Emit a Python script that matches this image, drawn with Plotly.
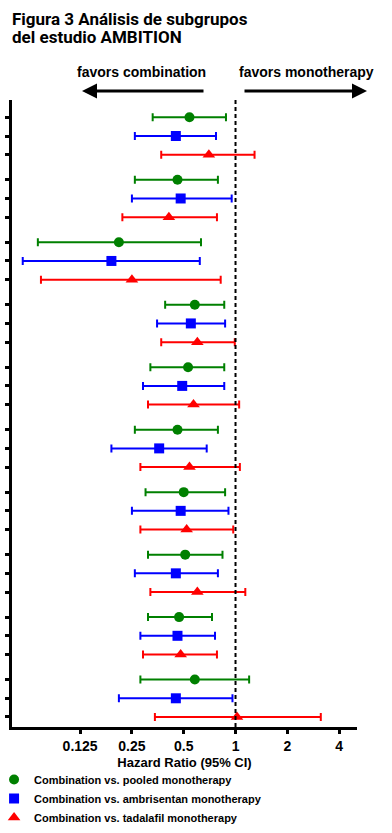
import plotly.graph_objects as go

# ---------------- data ----------------
series_names = [
    "Combination vs. pooled monotherapy",
    "Combination vs. ambrisentan monotherapy",
    "Combination vs. tadalafil monotherapy",
]
pooled_hr = [0.54, 0.46, 0.21, 0.58, 0.53, 0.46, 0.50, 0.51, 0.47, 0.58]
pooled_lo = [0.33, 0.26, 0.071, 0.39, 0.32, 0.26, 0.30, 0.31, 0.31, 0.28]
pooled_hi = [0.88, 0.79, 0.63, 0.86, 0.86, 0.79, 0.87, 0.84, 0.73, 1.20]

ambri_hr = [0.45, 0.48, 0.19, 0.55, 0.49, 0.36, 0.48, 0.45, 0.46, 0.45]
ambri_lo = [0.26, 0.25, 0.058, 0.35, 0.29, 0.19, 0.25, 0.26, 0.28, 0.21]
ambri_hi = [0.77, 0.95, 0.62, 0.87, 0.86, 0.68, 0.91, 0.79, 0.76, 0.96]

tada_hr = [0.70, 0.41, 0.25, 0.60, 0.57, 0.54, 0.52, 0.60, 0.48, 1.02]
tada_lo = [0.37, 0.22, 0.074, 0.37, 0.31, 0.28, 0.28, 0.32, 0.29, 0.34]
tada_hi = [1.29, 0.78, 0.82, 0.99, 1.05, 1.06, 0.97, 1.14, 0.78, 3.13]

x_tick_values = [0.125, 0.25, 0.5, 1, 2, 4]
x_tick_labels = ["0.125", "0.25", "0.5", "1", "2", "4"]

# ---------------- styling ----------------
colors = ["#008000", "#0000FF", "#FF0000"]
symbols = ["circle", "square", "triangle-up"]
sizes = [10, 10, 11]
GROUP_GAP = 3.34
n_groups = len(pooled_hr)

BOLD = "Liberation Sans, Arial, sans-serif"
NARROW = "Roboto, Liberation Sans, Arial, sans-serif"

fig = go.Figure()
all_series = [
    (pooled_hr, pooled_lo, pooled_hi),
    (ambri_hr, ambri_lo, ambri_hi),
    (tada_hr, tada_lo, tada_hi),
]
all_rows = []
for s, (hr, lo, hi) in enumerate(all_series):
    ys = [g * GROUP_GAP + s for g in range(n_groups)]
    all_rows += ys
    fig.add_trace(go.Scatter(
        x=hr, y=ys, mode="markers", name=series_names[s],
        marker=dict(symbol=symbols[s], color=colors[s], size=sizes[s], line=dict(width=0)),
        error_x=dict(type="data", symmetric=False,
                     array=[h - m for h, m in zip(hi, hr)],
                     arrayminus=[m - l for m, l in zip(hr, lo)],
                     color=colors[s], thickness=2, width=4),
    ))

last_row = (n_groups - 1) * GROUP_GAP + 2

fig.add_shape(type="line", xref="x", yref="paper", x0=1, x1=1, y0=0, y1=1,
              line=dict(color="black", width=2, dash="4px,3px"))

# title lines
fig.add_annotation(text="<b>Figura 3 Análisis de subgrupos</b>", xref="paper", yref="paper",
                   x=-0.005, y=1.129, xanchor="left", yanchor="middle", showarrow=False,
                   font=dict(family=NARROW, size=17, color="black"))
fig.add_annotation(text="<b>del estudio AMBITION</b>", xref="paper", yref="paper",
                   x=-0.005, y=1.101, xanchor="left", yanchor="middle", showarrow=False,
                   font=dict(family=NARROW, size=17, color="black"))

# direction labels
fig.add_annotation(text="<b>favors combination</b>", xref="paper", yref="paper",
                   x=0.3768, y=1.0447, xanchor="center", yanchor="middle", showarrow=False,
                   font=dict(family=BOLD, size=14, color="black"))
fig.add_annotation(text="<b>favors monotherapy</b>", xref="paper", yref="paper",
                   x=0.8536, y=1.0447, xanchor="center", yanchor="middle", showarrow=False,
                   font=dict(family=BOLD, size=14, color="black"))
fig.add_annotation(text="", xref="paper", yref="paper", x=0.2029, y=1.0144,
                   ax=123, ay=0, showarrow=True, arrowhead=2, arrowsize=1.0,
                   arrowwidth=3, arrowcolor="black", standoff=0)
fig.add_annotation(text="", xref="paper", yref="paper", x=1.029, y=1.0144,
                   ax=-124, ay=0, showarrow=True, arrowhead=2, arrowsize=1.0,
                   arrowwidth=3, arrowcolor="black", standoff=0)

fig.update_layout(
    width=392, height=833,
    margin=dict(l=12, r=35, t=100, b=106, autoexpand=False),
    paper_bgcolor="white", plot_bgcolor="white",
    showlegend=True,
    legend=dict(x=-0.052, y=-0.0606, xanchor="left", yanchor="top",
                font=dict(family=BOLD, size=11, color="black", weight="bold"),
                bgcolor="rgba(0,0,0,0)", borderwidth=0, tracegroupgap=0),
    xaxis=dict(type="log", range=[-1.299, 0.706],
               tickvals=x_tick_values, ticktext=x_tick_labels,
               tickfont=dict(family=BOLD, size=14, color="black", weight="bold"),
               ticks="outside", ticklen=4, tickwidth=2.5, tickcolor="black",
               showline=True, linewidth=2.5, linecolor="black",
               showgrid=False, zeroline=False,
               title=dict(text="Hazard Ratio (95% CI)", standoff=6,
                          font=dict(family=BOLD, size=13, color="black", weight="bold"))),
    yaxis=dict(range=[last_row + 0.535, -0.925], tickvals=all_rows,
               ticktext=["" for _ in all_rows],
               ticks="outside", ticklen=4, tickwidth=2.5, tickcolor="black",
               showline=True, linewidth=2.5, linecolor="black",
               showgrid=False, zeroline=False),
)

fig.write_html("out.html", config={"displayModeBar": False},
               post_script="document.body.style.margin='0';")
